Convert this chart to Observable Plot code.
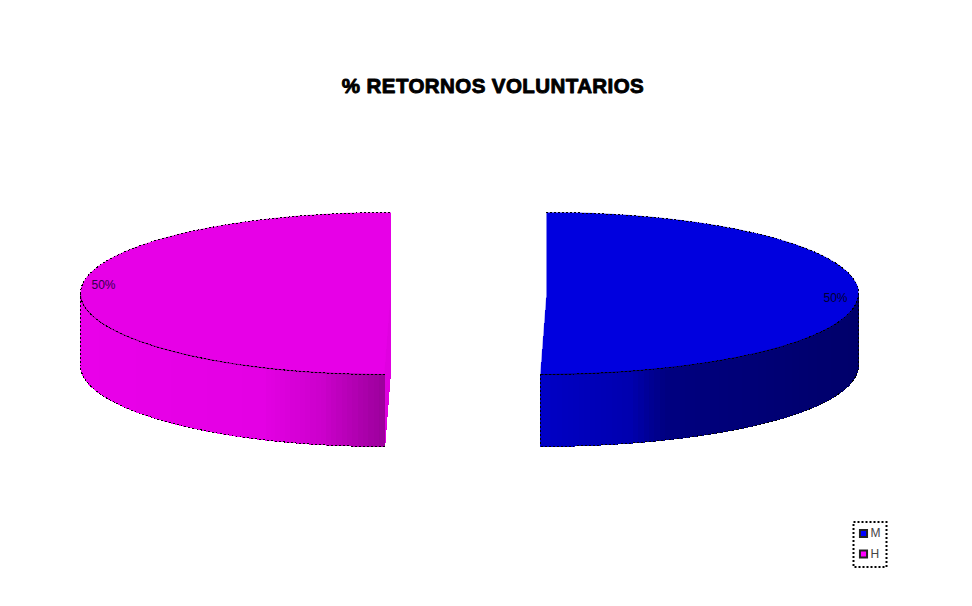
<!DOCTYPE html>
<html>
<head>
<meta charset="utf-8">
<script src="https://cdn.jsdelivr.net/npm/d3@7"></script>
<script src="https://cdn.jsdelivr.net/npm/@observablehq/plot@0.6"></script>
<style>
html,body{margin:0;padding:0;background:#fff}
svg{display:block}
.spaced text{letter-spacing:.42px}
</style>
</head>
<body>
<div id="chart"></div>
<script>
const titleText = "% RETORNOS VOLUNTARIOS";
const categories = ["M", "H"];
const shares = [50, 50];
const shareLabels = ["50%", "50%"];
const sliceColors = ["#0000ff", "#ff00ff"];
const labelColors = ["#000030", "#30004a"];
const legendOrder = ["M", "H"];

// picture frame of the 3D pie, in chart units
const apexX = {M: 546, H: 390};
const radiusX = {M: 312, H: 310};
const centerY = 293, radiusY = 81, depth = 72, apexDrop = 4, lean = -6;
const wallStops = {
  M: [[540, "#0000d8"], [630, "#0000c0"], [665, "#00008c"], [860, "#000074"]],
  H: [[80, "#ff00ff"], [262, "#fa00fa"], [320, "#e000e0"], [384, "#aa00aa"]]
};
const patternFor = {M: "url(#ditherM)", H: "url(#ditherH)"};

// cumulative angles from the shares: start at 12 o'clock, clockwise
let acc = 0;
const slices = categories.map((name, i) => {
  const a0 = -90 + acc * 3.6; acc += shares[i];
  return {name, a0, a1: -90 + acc * 3.6, label: shareLabels[i], color: sliceColors[i], labelColor: labelColors[i]};
});
const rim = (s, deg, drop = 0) => {
  const t = deg * Math.PI / 180, sn = Math.sin(t), c = Math.cos(t);
  const shift = sn > 0 ? lean * sn ** 6 : 0;
  return {x: apexX[s.name] + radiusX[s.name] * c + shift, y: centerY + radiusY * sn + drop};
};
const arc = (s, from, to, drop = 0, n = 120) =>
  d3.range(n + 1).map(i => rim(s, from + (to - from) * i / n, drop));

const faces = [], walls = [], wallShapes = [], edges = [], outlines = [], cuts = [];
for (const s of slices) {
  const apex = {x: apexX[s.name], y: centerY + apexDrop};
  faces.push(...[apex, ...arc(s, s.a0, s.a1), apex].map(p => ({...p, key: s.name})));
  // front wall is the part of the rim below the horizontal
  const from = Math.max(s.a0, 0), to = Math.min(s.a1, 180);
  const scale = d3.scaleLinear().domain(wallStops[s.name].map(d => d[0])).range(wallStops[s.name].map(d => d[1])).clamp(true);
  const N = 90;
  for (let i = 0; i < N; i++) {
    const a = from + (to - from) * i / N, b = from + (to - from) * (i + 1) / N;
    const top = arc(s, a, b, 0, 2), bottom = arc(s, b, a, depth, 2);
    const fill = scale((top[0].x + top[2].x) / 2);
    walls.push(...[...top, ...bottom].map(p => ({...p, key: s.name + i, fill})));
  }
  wallShapes.push(...[...arc(s, from, to), ...arc(s, to, from, depth)].map(p => ({...p, key: s.name})));
  edges.push(...arc(s, from, to).map(p => ({...p, key: s.name})));
  outlines.push(...arc(s, s.a0, s.a1).map(p => ({...p, key: s.name + "top"})));
  outlines.push(...arc(s, from, to, depth).map(p => ({...p, key: s.name + "bottom"})));
  const sideDeg = s.name === "M" ? 0 : 180;
  outlines.push(...[rim(s, sideDeg), rim(s, sideDeg, depth)].map(p => ({...p, key: s.name + "side"})));
  if (s.name === "M") outlines.push(...[rim(s, 90), rim(s, 90, depth)].map(p => ({...p, key: s.name + "seam"})));
  if (s.name === "H") {
    const c = rim(s, 90);
    cuts.push(apex, {x: apex.x, y: apex.y + depth}, {x: c.x, y: c.y + depth}, c);
  }
}

const labelsAt = [
  {x: 103, y: 285, text: slices[1].label, color: slices[1].labelColor},
  {x: 835, y: 298, text: slices[0].label, color: slices[0].labelColor}
];
const legendBox = [{x1: 853.5, x2: 886.5, y1: 522, y2: 567}];
const legendItems = legendOrder.map((name, i) => ({name, x: 863, y: 533 + i * 20.5, color: sliceColors[categories.indexOf(name)]}));
const crisp = {curve: "linear", shapeRendering: "crispEdges"};

const plot = Plot.plot({
  width: 972, height: 606, margin: 0,
  x: {domain: [0, 972], range: [0, 972], axis: null},
  y: {domain: [0, 606], range: [0, 606], axis: null},
  color: {type: "identity"},
  style: {background: "#fff"},
  marks: [
    Plot.line(cuts, {x: "x", y: "y", fill: "#e000e0", stroke: "#e000e0", ...crisp}),
    Plot.line(walls, {x: "x", y: "y", z: "key", fill: "fill", stroke: "fill", strokeWidth: 1, ...crisp}),
    Plot.line(wallShapes, {x: "x", y: "y", z: "key", fill: "url(#ditherWall)", stroke: "none", ...crisp}),
    Plot.line(faces.filter(d => d.key === "M"), {x: "x", y: "y", fill: patternFor.M, stroke: "#0000e0", strokeWidth: 0.5, ...crisp}),
    Plot.line(faces.filter(d => d.key === "H"), {x: "x", y: "y", fill: patternFor.H, stroke: "#e000e0", strokeWidth: 0.5, ...crisp}),
    Plot.line(edges.filter(d => d.key === "H"), {x: "x", y: "y", stroke: "#7a007a", strokeWidth: 1, curve: "linear"}),
    Plot.line(edges.filter(d => d.key === "M"), {x: "x", y: "y", stroke: "#00005a", strokeWidth: 1, curve: "linear"}),
    Plot.line(outlines, {x: "x", y: "y", z: "key", stroke: "#000", strokeWidth: 1, strokeDasharray: "1 3", ...crisp}),
    Plot.text(labelsAt, {x: "x", y: "y", text: "text", fill: "color", fontSize: 12, fontFamily: "Liberation Sans"}),
    Plot.text([titleText], {x: () => 492.5, y: () => 86, text: d => d, className: "spaced", fill: "#000", stroke: "#000", strokeWidth: 0.9, fontSize: 20.5, fontWeight: 700, fontFamily: "Liberation Sans"}),
    Plot.rect(legendBox, {x1: "x1", x2: "x2", y1: "y1", y2: "y2", fill: "#fff", stroke: "#000", strokeWidth: 2, strokeDasharray: "2 2"}),
    Plot.dot(legendItems, {x: "x", y: "y", r: 4, symbol: "square", fill: "color", stroke: "#222", strokeWidth: 2}),
    Plot.text(legendItems, {x: d => d.x + 7, y: "y", text: "name", textAnchor: "start", fill: "#444", fontSize: 12, fontFamily: "Liberation Sans"})
  ]
});

// 1-pixel ordered-dither tiles, as in the reference's rendering
const defs = document.createElementNS("http://www.w3.org/2000/svg", "defs");
const tile = (id, base, dark, opacity = 1) => `<pattern id="${id}" width="4" height="4" patternUnits="userSpaceOnUse">
${base ? `<rect width="4" height="4" fill="${base}"/>` : ""}
<rect x="0" y="0" width="1" height="1" fill="${dark}" opacity="${opacity}"/><rect x="2" y="0" width="1" height="1" fill="${dark}" opacity="${opacity}"/>
<rect x="1" y="2" width="1" height="1" fill="${dark}" opacity="${opacity}"/><rect x="3" y="2" width="1" height="1" fill="${dark}" opacity="${opacity}"/></pattern>`;
defs.innerHTML = tile("ditherM", "#0000ff", "#000080") + tile("ditherH", "#ff00ff", "#a000a0") + tile("ditherWall", null, "#000", 0.35);
plot.insertBefore(defs, plot.firstChild);
document.getElementById("chart").appendChild(plot);
</script>
</body>
</html>
